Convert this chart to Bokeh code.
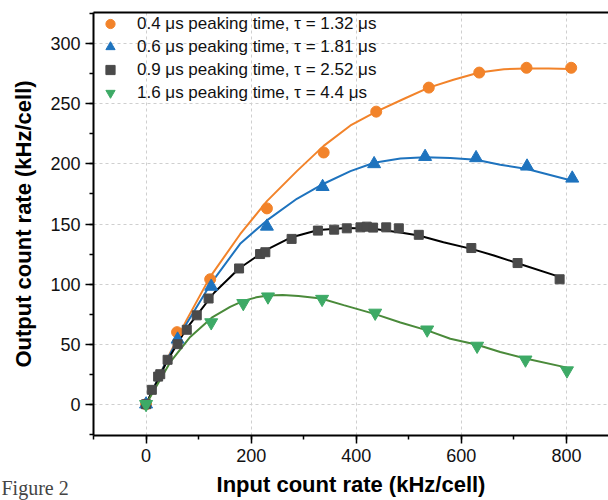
from bokeh.plotting import figure
from bokeh.models import (Legend, LegendItem, LinearAxis, SingleIntervalTicker,
                          FixedTicker, Title, Range1d)
from bokeh.embed import file_html
from bokeh.resources import INLINE

# ---- data ----
x_04 = [0, 59, 122, 230, 338, 438, 538, 634, 724, 809]
y_04 = [0, 60, 104, 163, 209.5, 243.5, 263.5, 276, 280, 280]
x_06 = [0, 60, 124, 230, 336, 434, 531, 628, 725, 811]
y_06 = [0, 54, 98, 148, 181, 200, 206, 205, 198, 188]
x_09 = [0, 11, 23, 27, 41, 60, 77.5, 96.5, 119, 177, 217, 227, 277, 327, 358,
        382, 408, 420, 432, 457, 481, 519, 619, 707, 787]
y_09 = [0, 12, 23, 25, 37, 50, 62, 74, 88, 113, 125, 126.5, 137.6, 144.5, 145.3,
        146.4, 147.2, 147.8, 147, 147.2, 146.4, 141, 130, 117.5, 104]
x_16 = [0, 124, 185, 232, 335, 436, 535, 630, 722, 801]
y_16 = [0, 68, 84, 89.5, 87.5, 76, 62, 48.5, 37, 28]

# fitted curves
fx_04 = [0, 40, 77, 122, 179, 230, 287, 338, 389, 438, 490, 538, 585, 634, 681, 724, 766, 809]
fy_04 = [0, 37.5, 70, 106, 141.5, 169, 194, 215, 232, 243.5, 254, 263.5, 270, 276, 278.8, 279.5, 279.5, 279]
fx_06 = [0, 40, 77, 125, 179, 230, 287, 338, 389, 434, 484, 531, 579, 628, 674, 725, 811]
fy_06 = [0, 37, 67, 101.5, 133.5, 153, 171, 183.5, 194, 201, 204.5, 205.6, 205, 203.4, 199.3, 195.7, 186]
fx_09 = [0, 40, 77, 96.5, 130, 177, 227, 277, 328, 382, 432, 484, 519, 566, 619, 662, 707, 787]
fy_09 = [0, 36, 63, 74, 93, 113, 128, 139, 145, 146.7, 146, 143, 140.4, 134.8, 129.3, 123.8, 117.4, 106]
fx_16 = [0, 46, 84, 125, 160, 185, 210, 232, 260, 290, 333, 376, 436, 484, 535, 579, 630, 674, 722, 801]
fy_16 = [0, 35, 56, 72, 81, 86, 89, 90.5, 91, 90, 88, 82.5, 75, 68, 61.5, 54.5, 49.5, 43.5, 38, 30.5]

labels = ["0.4 \u03bcs peaking time, \u03c4 = 1.32 \u03bcs",
          "0.6 \u03bcs peaking time, \u03c4 = 1.81 \u03bcs",
          "0.9 \u03bcs peaking time, \u03c4 = 2.52 \u03bcs",
          "1.6 \u03bcs peaking time, \u03c4 = 4.4 \u03bcs"]

FONT = "Liberation Sans"

p = figure(width=608, height=500, x_range=Range1d(-100, 880), y_range=Range1d(-26, 326),
           output_backend="svg", toolbar_location=None,
           min_border_left=93, min_border_right=0, min_border_top=12, min_border_bottom=65,
           x_axis_label="Input count rate (kHz/cell)",
           y_axis_label="Output count rate (kHz/cell)")
p.outline_line_color = None
p.background_fill_color = "white"
p.border_fill_color = "white"

p.xaxis.ticker = SingleIntervalTicker(interval=200, num_minor_ticks=2)
p.yaxis.ticker = SingleIntervalTicker(interval=50, num_minor_ticks=2)

for ax in (p.xaxis[0], p.yaxis[0]):
    ax.axis_line_width = 2
    ax.axis_line_color = "black"
    ax.major_tick_line_width = 1.5
    ax.minor_tick_line_width = 1.5
    ax.major_tick_in = 0
    ax.minor_tick_in = 0
    ax.major_tick_out = 8
    ax.minor_tick_out = 4
    ax.major_label_text_font = FONT
    ax.major_label_text_font_size = "18px"
    ax.major_label_text_color = "#111111"
    ax.axis_label_text_font = FONT
    ax.axis_label_text_font_style = "bold"
    ax.axis_label_text_color = "black"
    ax.axis_label_text_font_size = "22px"

p.xaxis.major_label_standoff = 5
p.xaxis.axis_label_standoff = 7
p.yaxis.major_label_standoff = 5
p.yaxis.axis_label_standoff = 11

top = LinearAxis(ticker=FixedTicker(ticks=[]), axis_line_width=2, axis_line_color="black",
                 major_tick_line_color=None, minor_tick_line_color=None,
                 major_label_text_font_size="0px")
p.add_layout(top, "above")

p.xgrid.grid_line_color = "#cfcfcf"
p.ygrid.grid_line_color = "#cfcfcf"
p.xgrid.grid_line_dash = "3 3"
p.ygrid.grid_line_dash = "3 3"
p.xgrid.grid_line_width = 1
p.ygrid.grid_line_width = 1

C_OR = "#F2832A"
C_BL = "#1E73BE"
C_SQ = "#4A4A4A"
C_GR_M = "#3DAA66"
C_GR_L = "#4A8A3A"

p.line(fx_04, fy_04, line_color=C_OR, line_width=2)
p.line(fx_06, fy_06, line_color=C_BL, line_width=2)
p.line(fx_09, fy_09, line_color="black", line_width=2)
p.line(fx_16, fy_16, line_color=C_GR_L, line_width=2)

r1 = p.scatter(x_04, y_04, marker="circle", size=11, fill_color=C_OR, line_color=C_OR)
r2 = p.scatter(x_06, y_06, marker="triangle", size=13, fill_color=C_BL, line_color=C_BL)
r3 = p.scatter(x_09, y_09, marker="square", size=9, fill_color=C_SQ, line_color=C_SQ)
r4 = p.scatter(x_16, y_16, marker="inverted_triangle", size=13, fill_color=C_GR_M, line_color=C_GR_M)

legend = Legend(items=[LegendItem(label=labels[0], renderers=[r1]),
                       LegendItem(label=labels[1], renderers=[r2]),
                       LegendItem(label=labels[2], renderers=[r3]),
                       LegendItem(label=labels[3], renderers=[r4])],
                location="top_left", margin=0, padding=0, spacing=0,
                glyph_width=34, glyph_height=23, label_height=23, label_standoff=10,
                label_text_font=FONT, label_text_font_size="17px", label_text_color="#111111",
                border_line_color=None, background_fill_alpha=0)
p.add_layout(legend)

fig_title = Title(text="Figure 2", align="left", vertical_align="top", offset=-92,
                  standoff=-46, text_font="Liberation Serif", text_font_size="20px",
                  text_font_style="normal", text_color="#444444")
p.add_layout(fig_title, "below")

open("out.html", "w").write(file_html(p, INLINE))
